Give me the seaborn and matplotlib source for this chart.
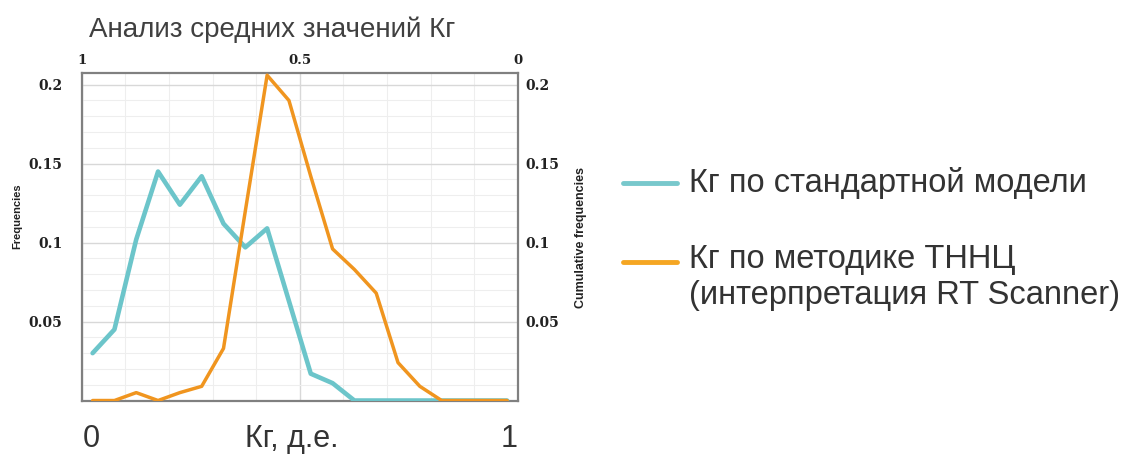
import numpy as np
import pandas as pd
import matplotlib
matplotlib.use("Agg")
import matplotlib.pyplot as plt
from matplotlib.lines import Line2D
from matplotlib.ticker import MultipleLocator
import seaborn as sns

# ---- data ----
kg_centers = [0.025, 0.075, 0.125, 0.175, 0.225, 0.275, 0.325, 0.375, 0.425, 0.475,
              0.525, 0.575, 0.625, 0.675, 0.725, 0.775, 0.825, 0.875, 0.925, 0.975]
freq_standard = [0.030, 0.045, 0.102, 0.145, 0.124, 0.142, 0.112, 0.097, 0.109, 0.063,
                 0.017, 0.011, 0.000, 0.000, 0.000, 0.000, 0.000, 0.000, 0.000, 0.000]
freq_tnnc = [0.000, 0.000, 0.005, 0.000, 0.005, 0.009, 0.033, 0.120, 0.206, 0.190,
             0.142, 0.096, 0.083, 0.068, 0.024, 0.009, 0.000, 0.000, 0.000, 0.000]
series_names = ["Кг по стандартной модели",
                "Кг по методике ТННЦ\n(интерпретация RT Scanner)"]
y_ticks = [0.05, 0.1, 0.15, 0.2]
y_tick_labels = ["0.05", "0.1", "0.15", "0.2"]
top_ticks = [1, 0.5, 0]
top_tick_labels = ["1", "0.5", "0"]
bottom_ticks = [0, 1]
bottom_tick_labels = ["0", "1"]
title = "Анализ средних значений Кг"
x_label = "Кг, д.е."
left_label = "Frequencies"
right_label = "Cumulative frequencies"

teal = "#6cc5ca"
orange = "#f0951f"
teal_leg = "#78c8cc"
orange_leg = "#f5a623"
tick_color = "#222222"
text_color = "#333333"

sns.set_style("white")
plt.rcParams["font.family"] = ["Liberation Sans", "DejaVu Sans"]

W, H = 1138, 455
fig = plt.figure(figsize=(W / 100, H / 100), dpi=100)
ax = fig.add_axes([81.7 / W, 1 - 401 / H, (518 - 81.7) / W, (401 - 73) / H])

df = pd.DataFrame({"kg": kg_centers * 2,
                   "freq": freq_standard + freq_tnnc,
                   "series": [series_names[0]] * len(kg_centers) + [series_names[1]] * len(kg_centers)})
sns.lineplot(data=df[df.series == series_names[0]], x="kg", y="freq", color=teal,
             linewidth=3.3, ax=ax, legend=False, zorder=3)
sns.lineplot(data=df[df.series == series_names[1]], x="kg", y="freq", color=orange,
             linewidth=2.5, ax=ax, legend=False, zorder=4)

ylim = (-0.0003, 0.2074)
ax.set_xlim(0, 1)
ax.set_ylim(*ylim)
ax.set_ylabel("")
ax.set_xlabel("")

# grid
ax.xaxis.set_major_locator(MultipleLocator(0.5))
ax.xaxis.set_minor_locator(MultipleLocator(0.1))
ax.set_yticks(y_ticks)
ax.yaxis.set_minor_locator(MultipleLocator(0.01))
ax.grid(which="major", color="#d8d8d8", linewidth=1.0, zorder=0)
ax.grid(which="minor", color="#eeeeee", linewidth=0.8, zorder=0)
ax.set_axisbelow(True)
ax.tick_params(axis="x", which="both", length=0, labelbottom=False)

for s in ax.spines.values():
    s.set_color("#808080")
    s.set_linewidth(1.6)

# left y tick labels
ax.set_yticklabels(y_tick_labels, fontfamily="DejaVu Serif", fontweight="bold",
                   fontsize=10, color=tick_color)
ax.tick_params(axis="y", which="both", length=0, pad=14)

# right y tick labels (twin)
ax2 = ax.twinx()
ax2.set_ylim(*ylim)
ax2.set_yticks(y_ticks)
ax2.set_yticklabels(y_tick_labels, fontfamily="DejaVu Serif", fontweight="bold",
                    fontsize=10, color=tick_color)
ax2.tick_params(axis="y", which="both", length=0, pad=5)
ax2.grid(False)
for s in ax2.spines.values():
    s.set_visible(False)

# top secondary axis (reversed)
sec = ax.secondary_xaxis("top", functions=(lambda x: 1 - x, lambda x: 1 - x))
sec.set_xticks(top_ticks)
sec.set_xticklabels(top_tick_labels, fontfamily="DejaVu Serif", fontweight="bold",
                    fontsize=9.5, color=tick_color)
sec.tick_params(length=0, pad=4)
for s in sec.spines.values():
    s.set_visible(False)

# bottom big labels (0, x-label, 1)
btrans = ax.get_xaxis_transform()
y_base = (401 - 447) / (401 - 73)
ax.text(bottom_ticks[0] + 0.003, y_base, bottom_tick_labels[0], transform=btrans,
        ha="left", va="baseline", fontsize=22, color=text_color)
ax.text(bottom_ticks[1] - 0.001, y_base, bottom_tick_labels[1], transform=btrans,
        ha="right", va="baseline", fontsize=22, color=text_color)
ax.text(0.482, y_base, x_label, transform=ax.transAxes,
        ha="center", va="baseline", fontsize=22, color=text_color)

# side labels
fig.text(17 / W, 1 - 216 / H, left_label, rotation=90, ha="center", va="center",
         fontsize=8, fontweight="bold", color=tick_color)
fig.text(581 / W, 1 - 237 / H, right_label, rotation=90, ha="center", va="center",
         fontsize=9, fontweight="bold", color=tick_color)

# title
fig.text(272 / W, 1 - 30 / H, title, ha="center", va="center", fontsize=20, color="#404040")

# legend (manual)
for ypix, col, name in [(183, teal_leg, series_names[0]), (262, orange_leg, series_names[1])]:
    yf = 1 - ypix / H
    fig.add_artist(Line2D([623 / W, 677 / W], [yf, yf], color=col, linewidth=3.5,
                          transform=fig.transFigure))
    if "\n" in name:
        fig.text(689 / W, 1 - (ypix - 18) / H, name, ha="left", va="top",
                 fontsize=23.5, color=text_color, linespacing=1.2)
    else:
        fig.text(689 / W, 1 - ypix / H, name, ha="left", va="center",
                 fontsize=23.5, color=text_color)

fig.savefig("out.png", dpi=100)
